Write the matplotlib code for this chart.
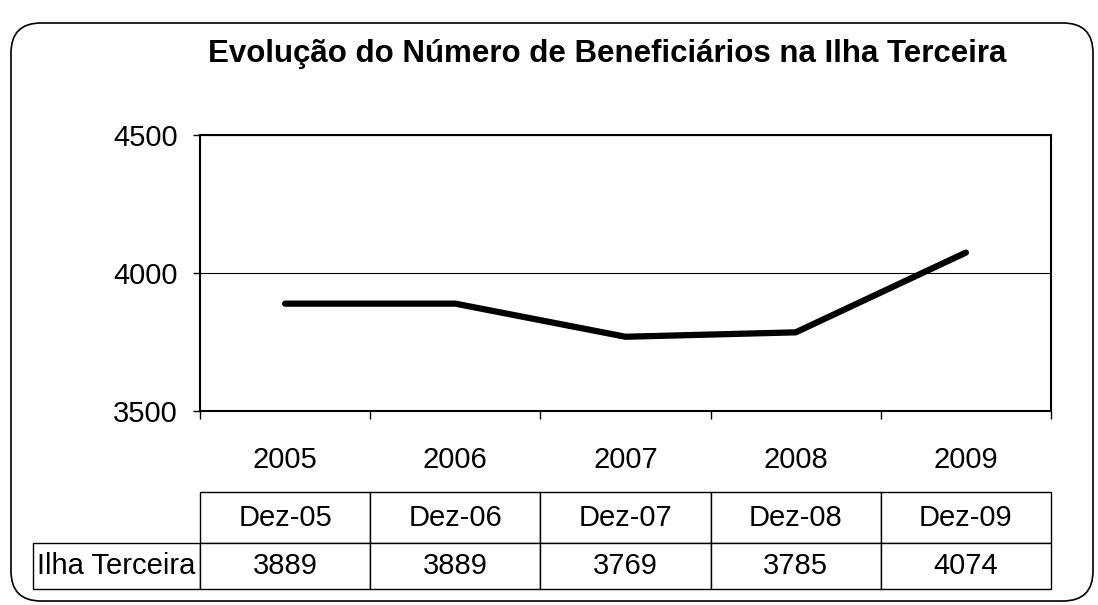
import matplotlib.pyplot as plt
from matplotlib.patches import FancyBboxPatch
from matplotlib.table import Table

# Beneficiaries per year (Ilha Terceira)
years = ['2005', '2006', '2007', '2008', '2009']
months = ['Dez-05', 'Dez-06', 'Dez-07', 'Dez-08', 'Dez-09']
beneficiarios = [3889, 3889, 3769, 3785, 4074]
row_label = 'Ilha Terceira'
y_ticks = [3500, 4000, 4500]

plt.rcParams['font.family'] = ['Liberation Sans', 'DejaVu Sans']

fig = plt.figure(figsize=(10.98, 6.05), dpi=100)
W, H = 1098, 605

# plot area in pixels of the reference
left, right, top, bottom = 200, 1051, 135, 411
ax = fig.add_axes([left / W, 1 - bottom / H, (right - left) / W, (bottom - top) / H])
aw, ah = right - left, bottom - top

x = list(range(len(years)))
ax.plot(x, beneficiarios, color='black', lw=4.5, solid_capstyle='round')

ax.set_xlim(-0.5, len(years) - 0.5)
ax.set_ylim(y_ticks[0], y_ticks[-1])
ax.set_yticks(y_ticks)
ax.tick_params(axis='y', labelsize=21, length=5, width=1, pad=11)
ax.yaxis.grid(True, color='black', lw=0.8)

# category boundaries get the tick marks, centres get the labels
ax.set_xticks([i - 0.5 for i in range(len(years) + 1)])
ax.set_xticklabels([])
ax.set_xticks(x, minor=True)
ax.set_xticklabels(years, minor=True)
ax.tick_params(axis='x', which='major', length=6, width=1)
ax.tick_params(axis='x', which='minor', length=0, labelsize=21, pad=25)
for s in ax.spines.values():
    s.set_linewidth(1.5)

# data table under the chart (sizes in axes units)
h0, h1 = 51 / ah, 46 / ah
tab = Table(ax, bbox=[0, -(589 - bottom) / ah, 1, h0 + h1])
col_w = 1 / len(months)
label_w = (left - 33) / aw
for j, m in enumerate(months):
    tab.add_cell(0, j, width=col_w, height=h0, text=m, loc='center')
    tab.add_cell(1, j, width=col_w, height=h1, text=str(beneficiarios[j]), loc='center')
tab.add_cell(1, -1, width=label_w, height=h1, text=row_label, loc='center')
tab.auto_set_font_size(False)
tab.set_fontsize(21)
for cell in tab.get_celld().values():
    cell.set_linewidth(1)
    cell.set_edgecolor('black')
    cell.PAD = 0.02
ax.add_table(tab)

fig.text(607 / W, 1 - 62 / H, 'Evolução do Número de Beneficiários na Ilha Terceira',
         ha='center', va='baseline', fontsize=22.5, fontweight='bold')

# rounded chart border
box = FancyBboxPatch((0.11, 0.04), 10.82, 5.78, boxstyle='round,pad=0,rounding_size=0.3',
                     transform=fig.dpi_scale_trans, fill=False, edgecolor='black', lw=1.2)
fig.patches.append(box)

fig.savefig('out.png', dpi=100)
